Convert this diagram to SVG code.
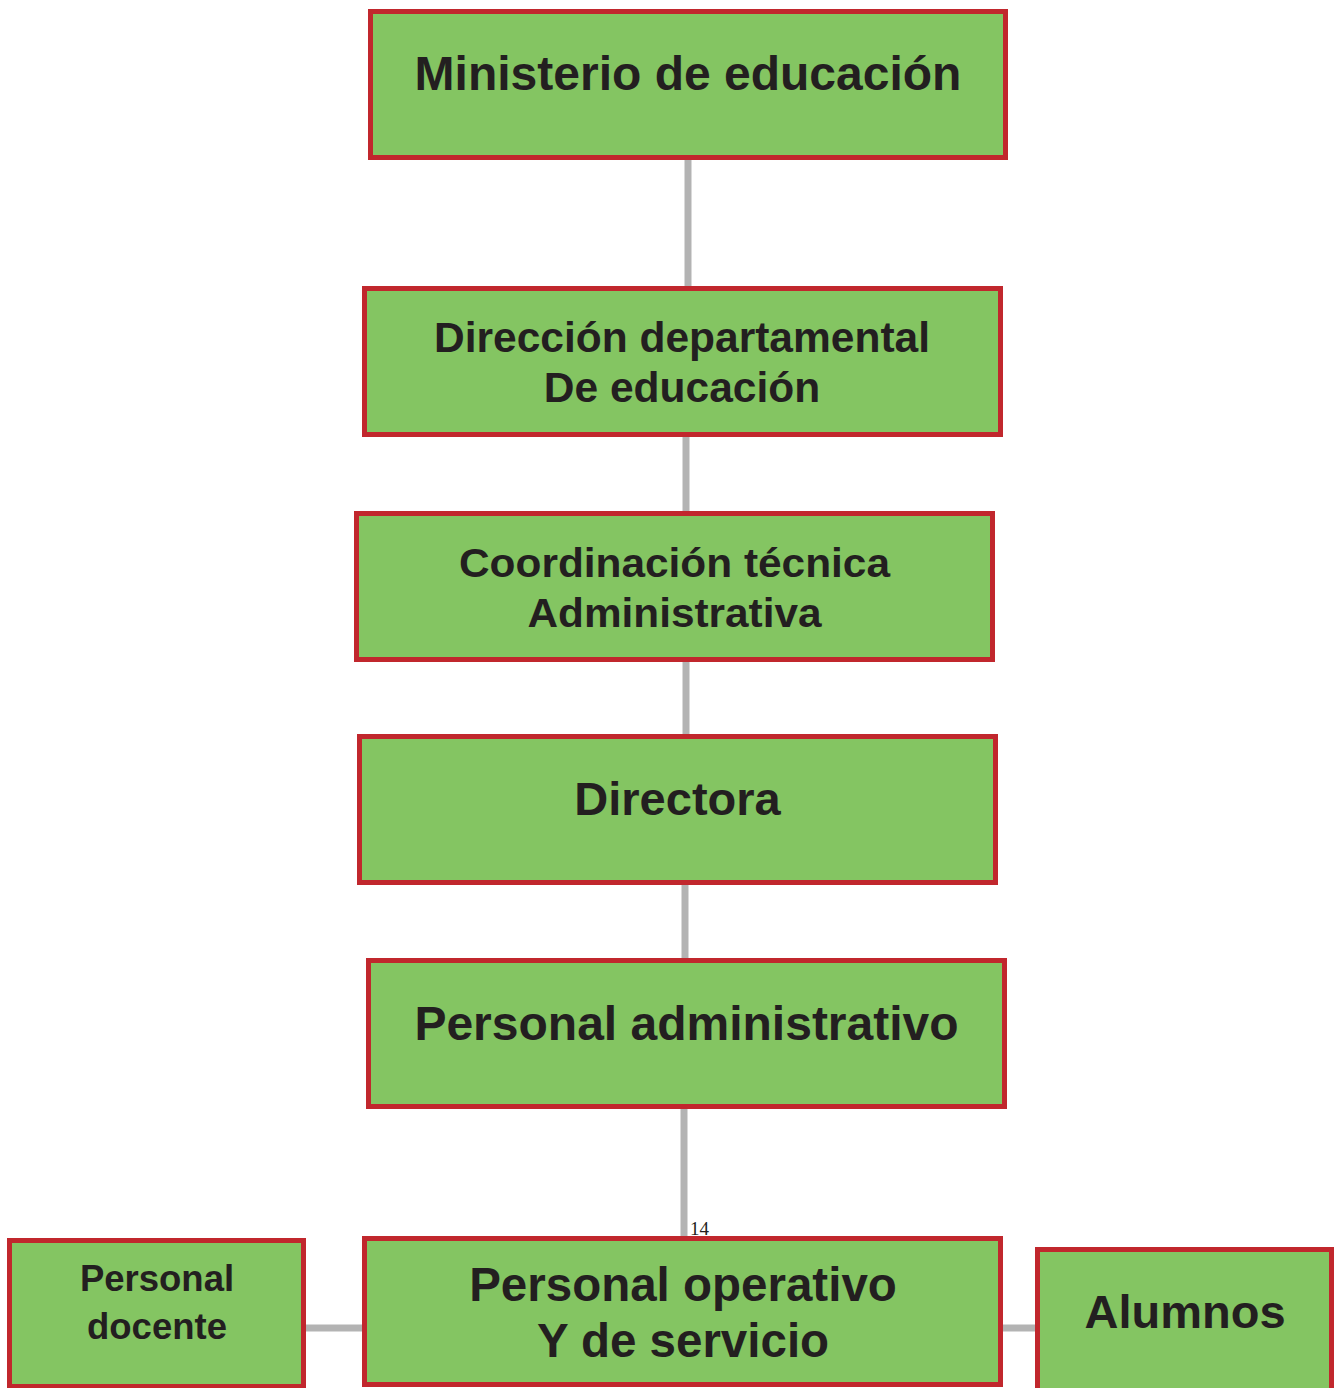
<svg xmlns="http://www.w3.org/2000/svg" width="1335" height="1388" viewBox="0 0 1335 1388">
<style>
.box{fill:#84c562;stroke:#c1272d;stroke-width:5}
.t{font-family:"Liberation Sans",Arial,sans-serif;font-weight:bold;fill:#231f20;text-anchor:middle}
.c{stroke:#b3b3b3;stroke-width:7;fill:none}
</style>
<rect width="1335" height="1388" fill="#ffffff"/>
<g id="connectors">
<line class="c" x1="688" y1="160" x2="688" y2="287"/>
<line class="c" x1="686" y1="436" x2="686" y2="512"/>
<line class="c" x1="686" y1="661" x2="686" y2="735"/>
<line class="c" x1="685" y1="884" x2="685" y2="959"/>
<line class="c" x1="684" y1="1108" x2="684" y2="1237"/>
<line class="c" x1="305" y1="1328" x2="363" y2="1328"/>
<line class="c" x1="1002" y1="1328" x2="1036" y2="1328"/>
</g>
<g id="n1"><rect class="box" x="370.5" y="11.5" width="635" height="146"/><text class="t" x="688" y="90" font-size="48">Ministerio de educación</text></g>
<g id="n2"><rect class="box" x="364.5" y="288.5" width="636" height="146"/><text class="t" x="682" y="352" font-size="42.5">Dirección departamental</text><text class="t" x="682" y="402" font-size="42.5">De educación</text></g>
<g id="n3"><rect class="box" x="356.5" y="513.5" width="636" height="146"/><text class="t" x="674.5" y="577" font-size="41" textLength="431" lengthAdjust="spacingAndGlyphs">Coordinación técnica</text><text class="t" x="674.5" y="627" font-size="41" textLength="294" lengthAdjust="spacingAndGlyphs">Administrativa</text></g>
<g id="n4"><rect class="box" x="359.5" y="736.5" width="636" height="146"/><text class="t" x="677.5" y="815" font-size="47">Directora</text></g>
<g id="n5"><rect class="box" x="368.5" y="960.5" width="636" height="146"/><text class="t" x="686.5" y="1040" font-size="48">Personal administrativo</text></g>
<g id="n6"><rect class="box" x="364.5" y="1238.5" width="636" height="146"/><text class="t" x="683" y="1301" font-size="47.5">Personal operativo</text><text class="t" x="683" y="1357" font-size="47.5">Y de servicio</text></g>
<g id="n7"><rect class="box" x="9.5" y="1240.5" width="294" height="146"/><text class="t" x="157" y="1291" font-size="36.5">Personal</text><text class="t" x="157" y="1339" font-size="36.5">docente</text></g>
<g id="n8"><rect class="box" x="1037.5" y="1249.5" width="294" height="142"/><text class="t" x="1185" y="1328" font-size="47">Alumnos</text></g>
<text x="690" y="1235" font-family="'Liberation Serif',serif" font-size="19" fill="#231f20">14</text>
</svg>
